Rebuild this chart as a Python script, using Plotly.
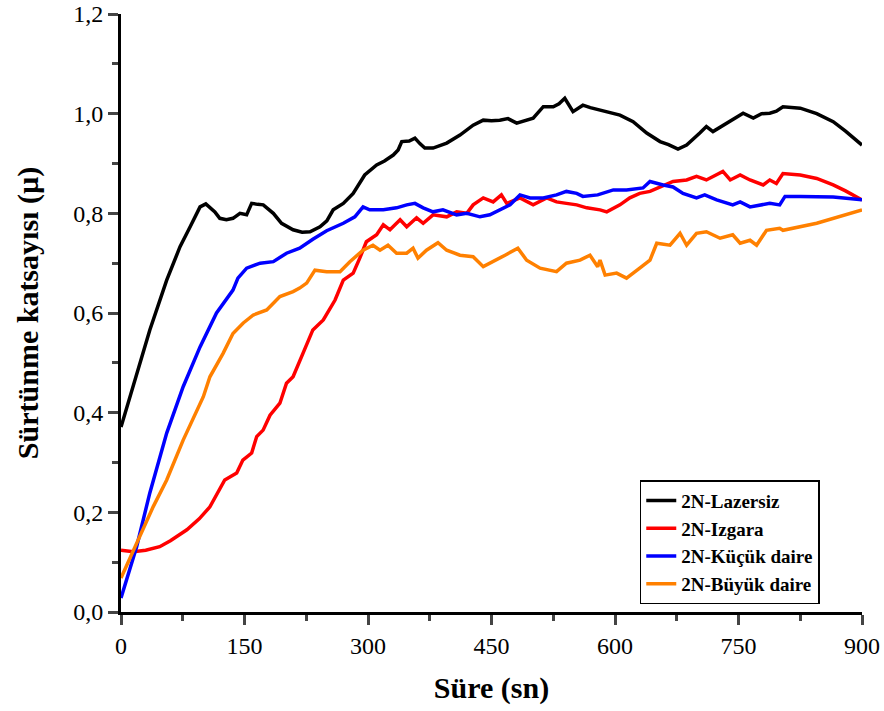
import plotly.graph_objects as go

# ---- data ----
lazersiz_x = [0, 15, 35, 55.5, 71.7, 84, 96, 103, 108, 114, 120, 128, 136, 144.5, 152.6, 158.7, 166, 172.8, 185, 195,
              209, 220, 229.6, 241.7, 250, 257.7, 270, 282, 296, 310.5, 320, 330.7, 336.6, 341, 350, 357, 363, 369, 379,
              395.6, 411.7, 427.7, 440, 450, 460, 470, 480.6, 490, 500.6, 512.9, 525, 532, 539, 549, 561, 570, 581.8,
              590, 606, 622, 638.5, 654.7, 665, 676.5, 687, 703, 711, 719, 735.6, 745, 755.6, 768, 778, 788, 796, 804,
              825, 845, 865, 880, 900]
lazersiz_y = [0.371, 0.452, 0.566, 0.666, 0.733, 0.773, 0.813, 0.819, 0.812, 0.803, 0.79, 0.787, 0.79, 0.80, 0.797,
              0.82, 0.818, 0.817, 0.80, 0.78, 0.767, 0.762, 0.763, 0.773, 0.785, 0.807, 0.82, 0.84, 0.877, 0.897, 0.905,
              0.917, 0.927, 0.944, 0.945, 0.951, 0.94, 0.931, 0.931, 0.941, 0.957, 0.977, 0.987, 0.986, 0.987, 0.99,
              0.981, 0.985, 0.991, 1.014, 1.014, 1.02, 1.031, 1.004, 1.017, 1.012, 1.007, 1.005, 0.997, 0.984, 0.961,
              0.944, 0.938, 0.929, 0.937, 0.961, 0.974, 0.964, 0.981, 0.99, 1.001, 0.991, 1.0, 1.001, 1.005, 1.014,
              1.011, 1.0, 0.984, 0.965, 0.937]

izgara_x = [0, 15, 30, 47, 60, 80, 95, 108, 126, 140.5, 148, 158.7, 164.8, 172.6, 181, 193, 201, 209, 221, 233, 245.7,
            260, 270, 282, 290, 298, 310.5, 318.6, 326.7, 339, 347, 359, 367, 379, 395.6, 407.7, 420, 427.7, 440, 452,
            462, 468.5, 484.6, 500.6, 517, 529, 541, 553.5, 565.7, 581.8, 590, 606, 618, 630, 642.5, 654.7, 670.5, 687,
            699, 711, 719, 731, 740, 752, 764, 780, 788, 796, 804, 825, 845, 865, 880, 900]
izgara_y = [0.124, 0.121, 0.124, 0.131, 0.143, 0.165, 0.187, 0.211, 0.265, 0.279, 0.305, 0.319, 0.352, 0.365, 0.395,
            0.419, 0.459, 0.472, 0.519, 0.566, 0.586, 0.626, 0.666, 0.68, 0.71, 0.743, 0.757, 0.777, 0.767, 0.787,
            0.773, 0.791, 0.78, 0.797, 0.793, 0.803, 0.80, 0.817, 0.831, 0.823, 0.837, 0.82, 0.831, 0.817, 0.831,
            0.823, 0.82, 0.817, 0.811, 0.807, 0.803, 0.817, 0.831, 0.84, 0.844, 0.853, 0.864, 0.867, 0.874, 0.867,
            0.874, 0.884, 0.867, 0.877, 0.867, 0.857, 0.867, 0.86, 0.88, 0.877, 0.87, 0.857, 0.845, 0.827]

kucuk_x = [0, 10, 19, 35, 55.5, 75.5, 96, 116, 136, 142, 152.6, 169, 185, 201, 217, 233, 249.8, 270, 284, 294, 302,
           318.6, 334.7, 347, 357, 367, 379, 391, 407.7, 420, 436, 448, 460, 472.5, 484.6, 496.8, 512.9, 529, 541,
           553.5, 561, 579, 598, 614, 634, 642.5, 658.5, 670.5, 682.6, 699, 709, 723.5, 743, 752, 764, 788, 800,
           806.5, 825, 865, 900]
kucuk_y = [0.028, 0.08, 0.131, 0.239, 0.359, 0.452, 0.532, 0.6, 0.646, 0.67, 0.69, 0.70, 0.703, 0.72, 0.73, 0.748,
           0.765, 0.78, 0.793, 0.813, 0.807, 0.807, 0.811, 0.817, 0.82, 0.811, 0.803, 0.807, 0.797, 0.80, 0.793,
           0.797, 0.807, 0.817, 0.837, 0.831, 0.831, 0.837, 0.844, 0.84, 0.834, 0.837, 0.847, 0.847, 0.851, 0.864,
           0.857, 0.853, 0.84, 0.831, 0.837, 0.827, 0.817, 0.823, 0.813, 0.82, 0.817, 0.834, 0.834, 0.833, 0.827]

buyuk_x = [0, 19, 39, 55.5, 75.5, 100, 108, 124, 136, 148.5, 160.7, 177, 193, 209, 217, 225.5, 235.6, 249.8, 266,
           278, 294, 306, 314.6, 324.3, 334.7, 347, 354.7, 360.7, 371, 385, 395.6, 411.7, 427.7, 440, 452, 466.5,
           482, 492.7, 509, 529, 541, 557.5, 569.6, 579, 581.8, 588, 602, 614, 630, 642.5, 650.7, 666.8, 679, 687,
           699, 711, 727.6, 743, 752, 764, 772, 784, 800, 804, 845, 900]
buyuk_y = [0.068, 0.138, 0.211, 0.265, 0.345, 0.432, 0.472, 0.519, 0.559, 0.58, 0.596, 0.606, 0.633, 0.643, 0.65,
           0.66, 0.686, 0.683, 0.683, 0.703, 0.726, 0.736, 0.726, 0.736, 0.72, 0.72, 0.73, 0.71, 0.726, 0.741, 0.726,
           0.716, 0.713, 0.693, 0.703, 0.716, 0.73, 0.706, 0.69, 0.683, 0.70, 0.706, 0.716, 0.693, 0.706, 0.676,
           0.68, 0.67, 0.69, 0.706, 0.74, 0.736, 0.76, 0.736, 0.76, 0.763, 0.75, 0.757, 0.74, 0.746, 0.736, 0.766,
           0.77, 0.766, 0.78, 0.807]

series_names = ["2N-Lazersiz", "2N-Izgara", "2N-Küçük daire", "2N-Büyük daire"]
series_colors = ["#000000", "#FF0000", "#0000FF", "#FF8000"]

x_ticks = [0, 150, 300, 450, 600, 750, 900]
y_ticks = [0.0, 0.2, 0.4, 0.6, 0.8, 1.0, 1.2]

FONT = "Liberation Serif, Times New Roman, serif"

fig = go.Figure()
for name, color, xs, ys in zip(series_names, series_colors,
                               [lazersiz_x, izgara_x, kucuk_x, buyuk_x],
                               [lazersiz_y, izgara_y, kucuk_y, buyuk_y]):
    fig.add_trace(go.Scatter(x=xs, y=ys, mode="lines", name=name,
                             line=dict(color=color, width=3.5)))

fig.update_layout(
    width=884, height=711,
    margin=dict(l=121, r=22, t=14, b=99),
    plot_bgcolor="white", paper_bgcolor="white",
    separators=",.",
    font=dict(family=FONT, color="black", size=24),
    legend=dict(x=0.943, y=0.013, xanchor="right", yanchor="bottom",
                bordercolor="black", borderwidth=1.5, bgcolor="white",
                font=dict(family=FONT, size=19, weight="bold"),
                tracegroupgap=0),
    xaxis=dict(range=[0, 900], tickvals=x_ticks, showline=True, linecolor="black", linewidth=3,
               ticks="outside", ticklen=10, tickwidth=3, showgrid=False, zeroline=False, automargin=False,
               tickfont=dict(size=24),
               minor=dict(dtick=75, tick0=0, ticks="outside", ticklen=6, tickwidth=2.5, showgrid=False),
               title=dict(text="Süre (sn)", font=dict(size=30, weight="bold"), standoff=20)),
    yaxis=dict(range=[0, 1.2], tickvals=y_ticks, tickformat=".1f", showline=True, linecolor="black",
               linewidth=3, ticks="outside", ticklen=10, tickwidth=3, showgrid=False, zeroline=False,
               automargin=False, tickfont=dict(size=24),
               minor=dict(dtick=0.1, tick0=0, ticks="outside", ticklen=6, tickwidth=2.5, showgrid=False),
               title=dict(text="Sürtünme katsayısı (µ)", font=dict(size=30, weight="bold"), standoff=26)),
)

fig.write_html("out.html")
